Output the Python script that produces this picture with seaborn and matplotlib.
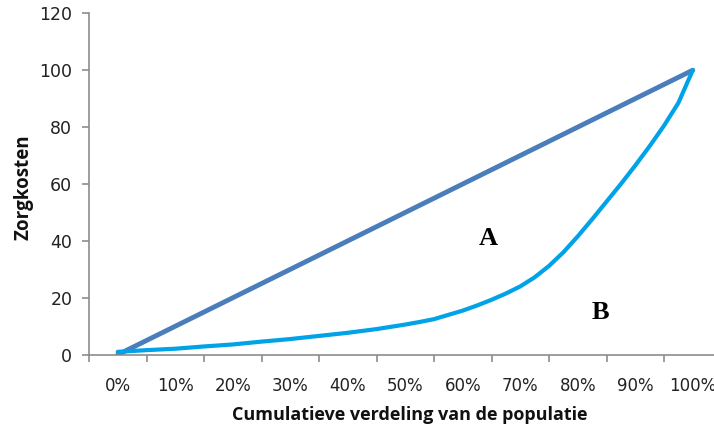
import numpy as np
import pandas as pd
import seaborn as sns
import matplotlib.pyplot as plt

#####################
### Data
#####################

# tick labels of the category axis
categories = ["0%", "10%", "20%", "30%", "40%", "50%", "60%", "70%", "80%", "90%", "100%"]

# line of equality (A+B), one value per category
equality_pct = [0, 10, 20, 30, 40, 50, 60, 70, 80, 90, 100]
equality_val = [0, 10, 20, 30, 40, 50, 60, 70, 80, 90, 100]

# Lorenz curve, read every 5% (every 2.5% where it bends)
lorenz_pct = [0, 5, 10, 15, 20, 25, 30, 35, 40, 45, 50,
              52.5, 55, 57.5, 60, 62.5, 65, 67.5, 70, 72.5, 75,
              77.5, 80, 82.5, 85, 87.5, 90, 92.5, 95, 97.5, 100]
lorenz_val = [1.0, 1.6, 2.1, 2.9, 3.6, 4.6, 5.5, 6.6, 7.7, 9.0, 10.6,
              11.5, 12.5, 14.0, 15.5, 17.3, 19.3, 21.5, 24.0, 27.2, 31.2,
              36.0, 41.6, 47.6, 53.8, 60.0, 66.5, 73.3, 80.5, 88.5, 100]

# area labels
area_labels = ["A", "B"]
area_pct = [64.4, 83.9]
area_val = [41, 14.7]

eqDf = pd.DataFrame({"pos": np.array(equality_pct) / 10, "val": equality_val})
lzDf = pd.DataFrame({"pos": np.array(lorenz_pct) / 10, "val": lorenz_val})

#####################
### Plot
#####################

sns.set_style("white")
plt.rcParams['font.family'] = ['DejaVu Sans']

fig = plt.figure(figsize=(7.14, 4.28), dpi=100)
# axis runs past the right edge, like the cropped original
ax = fig.add_axes([89 / 714, 1 - 354.7 / 428, 632.5 / 714, 341.4 / 428])

sns.lineplot(data=eqDf, x="pos", y="val", ax=ax, color="#4a7ebb", linewidth=3.5,
             solid_capstyle="round")
sns.lineplot(data=lzDf, x="pos", y="val", ax=ax, color="#00a2e8", linewidth=3.0,
             solid_capstyle="round", solid_joinstyle="round")

for lab, p, v in zip(area_labels, area_pct, area_val):
    ax.text(p / 10, v, lab, ha="center", va="center", fontsize=19,
            fontweight="bold", family=["Liberation Serif"], color="black")

ax.set_xlim(-0.5, 10.5)
ax.set_ylim(0, 120)
ax.set_yticks(range(0, 121, 20))

# ticks between categories, labels on the categories
ax.set_xticks(np.arange(-0.5, 11, 1))
ax.set_xticklabels([])
ax.set_xticks(np.arange(0, 11, 1), minor=True)
ax.set_xticklabels(categories, minor=True)

spine_col = "#8c8c8c"
for s in ["top", "right"]:
    ax.spines[s].set_visible(False)
for s in ["left", "bottom"]:
    ax.spines[s].set_color(spine_col)
    ax.spines[s].set_linewidth(1.2)

ax.tick_params(axis="y", which="major", direction="out", length=5, width=1.2,
               color=spine_col, labelsize=12.5, labelcolor="#222222", pad=7, left=True)
ax.tick_params(axis="x", which="major", direction="out", length=5, width=1.2,
               color=spine_col, bottom=True)
ax.tick_params(axis="x", which="minor", length=0, labelsize=12,
               labelcolor="#222222", pad=16)

ax.set_xlabel("Cumulatieve verdeling van de populatie", fontsize=13,
              fontweight="bold", family=["Open Sans"], color="#111111")
ax.set_ylabel("Zorgkosten", fontsize=13.5, fontweight="bold", family=["Open Sans"],
              color="#111111")
ax.xaxis.set_label_coords((410 - 89) / 632.5, -0.15)
ax.yaxis.set_label_coords((33 - 89) / 632.5, 0.49)

plt.savefig("out.png", dpi=100)
